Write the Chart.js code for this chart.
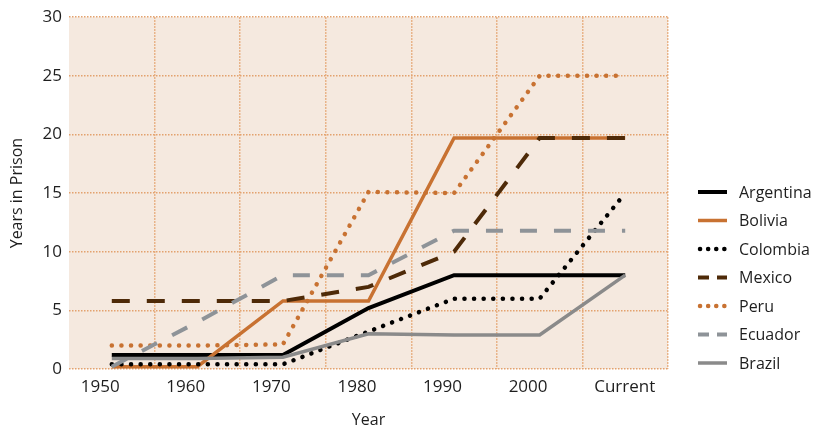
<!DOCTYPE html>
<html>
<head>
<meta charset="utf-8">
<script src="https://cdn.jsdelivr.net/npm/chart.js@4"></script>
<style>
  html, body { margin: 0; padding: 0; background: #fff; }
  #wrap { width: 814px; height: 431px; }
</style>
</head>
<body>
<div id="wrap"><canvas id="chart"></canvas></div>
<script>
// DATA
const years = ["1950", "1960", "1970", "1980", "1990", "2000", "Current"];
const argentina = [1.2, 1.2, 1.2, 5.2, 8, 8, 8];
const bolivia   = [0.2, 0.2, 5.8, 5.8, 19.7, 19.7, 19.7];
const colombia  = [0.4, 0.4, 0.4, 3.2, 6, 6, 15];
const mexico    = [5.8, 5.8, 5.8, 7, 10, 19.7, 19.7];
const peru      = [2, 2, 2.1, 15.1, 15, 25, 25];
const ecuador   = [0.2, 4, 8, 8, 11.8, 11.8, 11.8];
const brazil    = [0.9, 0.9, 1, 3, 2.9, 2.9, 8];
const yTicks    = [0, 5, 10, 15, 20, 25, 30];

const ORANGE = "#c87232";
const FONT = "'Open Sans', sans-serif";
const TEXT = "#1e1e1e";

function series(label, data, color, width, dash, cap) {
    return {
        label: label,
        data: data,
        borderColor: color,
        backgroundColor: color,
        borderWidth: width,
        borderDash: dash || [],
        borderCapStyle: cap || "butt",
        borderJoinStyle: "miter",
        pointRadius: 0,
        tension: 0,
        fill: false
    };
}

const datasets = [
    series("Argentina", argentina, "#000000", 4),
    series("Bolivia", bolivia, ORANGE, 3.5),
    series("Colombia", colombia, "#000000", 4.5, [0.1, 9.5], "round"),
    series("Mexico", mexico, "#4e2a08", 4, [18, 17]),
    series("Peru", peru, ORANGE, 4.5, [0.1, 9.5], "round"),
    series("Ecuador", ecuador, "#8e9398", 4, [17, 17]),
    series("Brazil", brazil, "#8a8a8a", 3.5)
];
// later series on top
datasets.forEach((d, i) => d.order = datasets.length - i);

// plot background
const plotBg = {
    id: "plotBg",
    beforeDraw(chart) {
        const a = chart.chartArea, c = chart.ctx;
        c.save();
        c.fillStyle = "#f5e9df";
        c.fillRect(a.left, a.top, a.right - a.left, a.bottom - a.top);
        c.restore();
    }
};

// legend with line samples
const lineLegend = {
    id: "lineLegend",
    afterDraw(chart) {
        const c = chart.ctx;
        const x0 = chart.chartArea.right + 30;
        const y0 = 192;
        c.save();
        chart.data.datasets.forEach((d, i) => {
            const y = y0 + i * 28.5;
            c.beginPath();
            c.strokeStyle = d.borderColor;
            c.lineWidth = d.borderWidth;
            c.lineCap = d.borderCapStyle;
            c.setLineDash(d.borderDash.length ? (d.borderCapStyle === "round" ? [0.1, 8] : [11, 8]) : []);
            c.moveTo(x0 + (d.borderCapStyle === "round" ? 2 : 0), y);
            c.lineTo(x0 + 29, y);
            c.stroke();
            c.setLineDash([]);
            c.fillStyle = TEXT;
            c.font = "16px " + FONT;
            c.textBaseline = "middle";
            c.textAlign = "left";
            c.fillText(d.label, x0 + 41, y + 1);
        });
        c.restore();
    }
};

const gridColor = "#e3a26e";

new Chart(document.getElementById("chart"), {
    type: "line",
    data: { labels: years, datasets: datasets },
    plugins: [plotBg, lineLegend],
    options: {
        responsive: true,
        maintainAspectRatio: false,
        animation: false,
        layout: { padding: { top: 15, right: 146, left: 8, bottom: 0 } },
        plugins: { legend: { display: false }, tooltip: { enabled: false } },
        scales: {
            x: {
                type: "category",
                offset: true,
                afterFit: (s) => { s.height = 62; },
                border: { display: false, dash: [1.5, 1.5] },
                grid: {
                    offset: true,
                    drawTicks: false,
                    lineWidth: 1.5,
                    color: (ctx) => (ctx.index === 0 || ctx.index >= years.length) ? "rgba(0,0,0,0)" : gridColor
                },
                ticks: {
                    align: "start",
                    labelOffset: -31,
                    padding: 8,
                    color: TEXT,
                    font: { family: FONT, size: 17 }
                },
                title: {
                    display: true,
                    text: "Year",
                    color: TEXT,
                    padding: { top: 1, bottom: 1 },
                    font: { family: FONT, size: 16 }
                }
            },
            y: {
                min: 0,
                max: 30,
                afterFit: (s) => { s.width = 61; },
                afterBuildTicks: (s) => { s.ticks = yTicks.map(v => ({ value: v })); },
                border: { display: false, dash: [1.5, 1.5] },
                grid: {
                    drawTicks: false,
                    lineWidth: 1.5,
                    color: gridColor
                },
                ticks: {
                    padding: 7,
                    color: TEXT,
                    font: { family: FONT, size: 17 }
                },
                title: {
                    display: true,
                    text: "Years in Prison",
                    color: TEXT,
                    padding: { top: 0, bottom: 0 },
                    font: { family: FONT, size: 16 }
                }
            }
        }
    }
});
</script>
</body>
</html>
